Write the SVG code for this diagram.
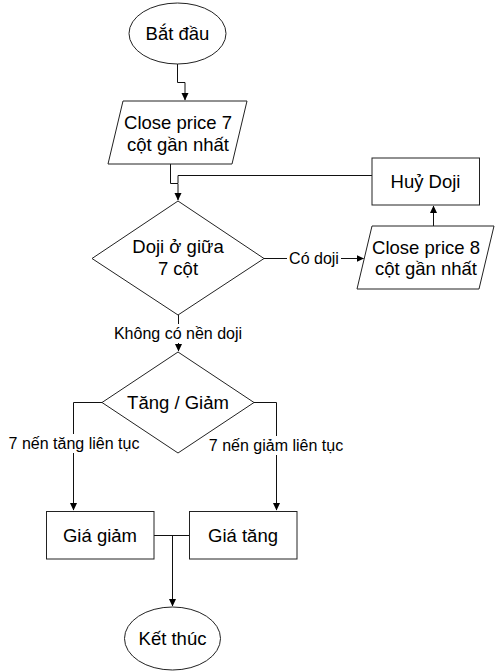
<svg xmlns="http://www.w3.org/2000/svg" width="496" height="672" viewBox="0 0 496 672">
<defs>
<marker id="arr" markerWidth="8" markerHeight="8" refX="7" refY="4" orient="auto" markerUnits="userSpaceOnUse">
<path d="M0,0.5 L7.5,4 L0,7.5 Z" fill="#000"/>
</marker>
<style>
.n{fill:#fff;stroke:#222;stroke-width:1}
.t{font-family:"Liberation Sans",Arial,sans-serif;font-size:18.5px;fill:#000;text-anchor:middle}
.l{font-family:"Liberation Sans",Arial,sans-serif;font-size:16px;fill:#000;text-anchor:middle}
.c{fill:none;stroke:#111;stroke-width:1}
.bg{fill:#fff}
</style>
</defs>
<rect width="496" height="672" fill="#fff"/>
<g id="connectors">
<path class="c" d="M177.5,64 V82.5 H185 V100" marker-end="url(#arr)"/>
<path class="c" d="M170.5,164 V183.5 H178 V200" marker-end="url(#arr)"/>
<path class="c" d="M372,175.5 H178 V183"/>
<path class="c" d="M264,258.5 H363.5" marker-end="url(#arr)"/>
<path class="c" d="M433.5,226 V206" marker-end="url(#arr)"/>
<path class="c" d="M178.5,315 V351" marker-end="url(#arr)"/>
<path class="c" d="M102,402.5 H73.5 V510" marker-end="url(#arr)"/>
<path class="c" d="M254,402.5 H276.5 V510" marker-end="url(#arr)"/>
<path class="c" d="M154,535.5 H189"/>
<path class="c" d="M172.5,535.5 V606" marker-end="url(#arr)"/>
<rect class="bg" x="287" y="249" width="54" height="19"/>
<text class="l" x="314" y="264">Có doji</text>
<rect class="bg" x="111" y="324" width="134" height="19"/>
<text class="l" x="178" y="339">Không có nền doji</text>
<rect class="bg" x="4" y="434" width="140" height="19"/>
<text class="l" x="74" y="449">7 nến tăng liên tục</text>
<rect class="bg" x="204" y="436" width="144" height="19"/>
<text class="l" x="276" y="451">7 nến giảm liên tục</text>
</g>
<g id="start">
<ellipse class="n" cx="177.5" cy="33.5" rx="48.5" ry="30.5"/>
<text class="t" x="177.5" y="40">Bắt đầu</text>
</g>
<g id="close7">
<polygon class="n" points="123,101 247,101 232,164 108,164"/>
<text class="t" x="178" y="128.5">Close price 7</text>
<text class="t" x="178" y="150.5">cột gần nhất</text>
</g>
<g id="doji">
<polygon class="n" points="178,201 264,258.5 178,315 92,258.5"/>
<text class="t" x="178" y="253">Doji ở giữa</text>
<text class="t" x="178" y="275">7 cột</text>
</g>
<g id="huy">
<rect class="n" x="372" y="158" width="107.5" height="47"/>
<text class="t" x="425.5" y="188">Huỷ Doji</text>
</g>
<g id="close8">
<polygon class="n" points="372,226 494,226 479,289 357,289"/>
<text class="t" x="426" y="253.5">Close price 8</text>
<text class="t" x="426" y="275">cột gần nhất</text>
</g>
<g id="tanggiam">
<polygon class="n" points="178,352 254,402.5 178,453 102,402.5"/>
<text class="t" x="178" y="408.5">Tăng / Giảm</text>
</g>
<g id="giagiam">
<rect class="n" x="46.5" y="511.5" width="107.5" height="47.5"/>
<text class="t" x="100" y="541.5">Giá giảm</text>
</g>
<g id="giatang">
<rect class="n" x="189.5" y="511.5" width="107.5" height="47.5"/>
<text class="t" x="243" y="541.5">Giá tăng</text>
</g>
<g id="end">
<ellipse class="n" cx="172.5" cy="638.5" rx="48" ry="31.5"/>
<text class="t" x="172.5" y="645">Kết thúc</text>
</g>
</svg>
